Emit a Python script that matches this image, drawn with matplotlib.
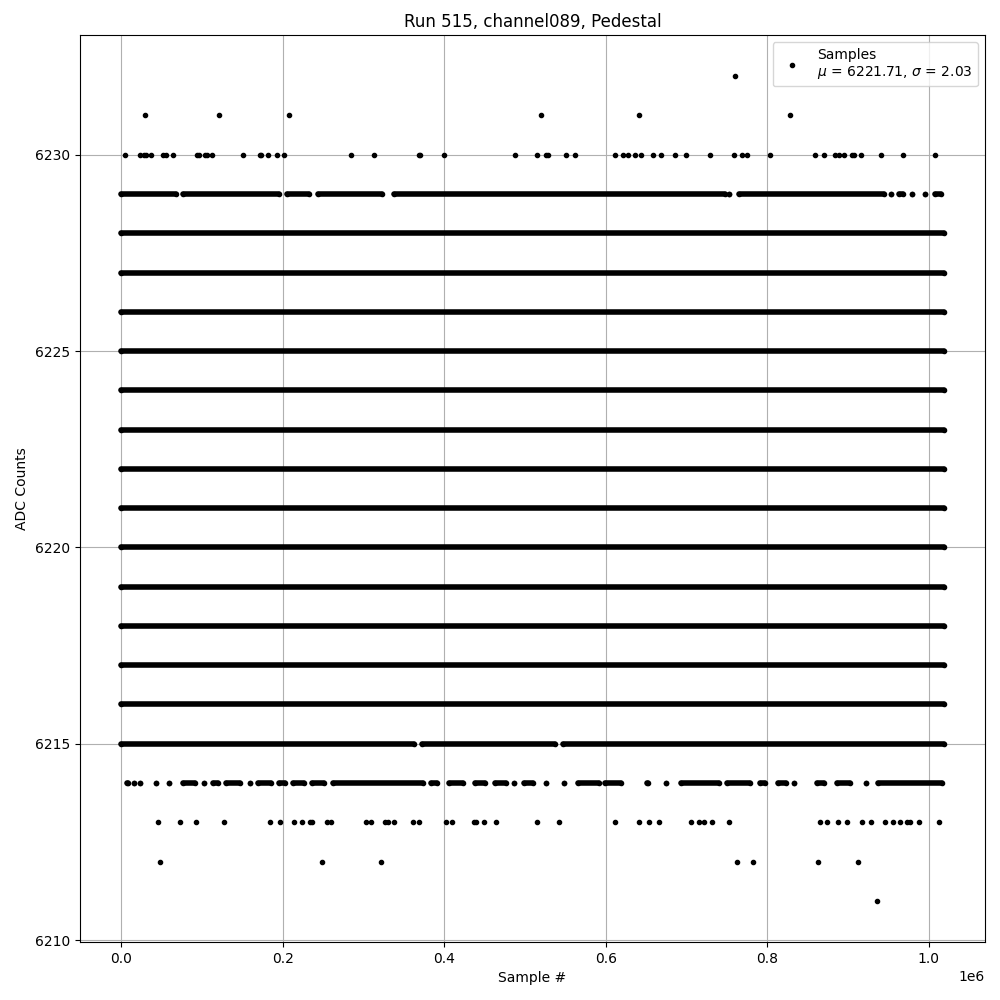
import numpy as np
import matplotlib
matplotlib.use("Agg")
import matplotlib.pyplot as plt

# x positions are in thousands of samples
last_sample = 1018.5

dense_levels = [6216, 6217, 6218, 6219, 6220, 6221, 6222, 6223, 6224, 6225, 6226, 6227, 6228]

# isolated samples
pts = {
    6232: [760],
    6231: [30, 121, 208, 520, 641, 828],
    6230: [5.3, 23.8, 28, 30.9, 37.4, 51.5, 55.9, 64.2, 94.2, 95.9, 103.7, 105.8, 112,
           151, 172.5, 173.2, 181.9, 193, 201.6, 284.8, 312.7, 368.3, 370, 399.1, 488,
           515.2, 526.3, 528, 551, 562.1, 611.5, 621.4, 627.2, 636.7, 644.1, 658.4,
           668.3, 686, 699.1, 728.8, 758.4, 769.1, 774.4, 803.3, 858.4, 870.7, 884.3,
           889.3, 894.7, 904.9, 907.4, 916.4, 941.1, 968.3, 1007.8],
    6213: [46, 73.2, 93, 127.5, 184.3, 196.7, 214, 223.8, 233.7, 236.2, 254.7, 259.6,
           302.8, 309, 326.8, 330.5, 337.4, 360.9, 368.3, 401.6, 410.2, 437.4, 439.9,
           449.8, 464.6, 515.2, 542.3, 611.5, 641.1, 653.5, 665.8, 705.8, 715.7, 721.4,
           731.2, 752.2, 864.6, 874.4, 888, 899.1, 917.7, 928, 946, 955.9, 964.6, 973.2,
           976.9, 988, 1012.7],
    6212: [48.5, 248.5, 321.4, 762.1, 781.9, 863.3, 912.7],
    6211: [936.2],
}

# partly filled levels: runs of consecutive samples (start, end)
runs_6229 = [(0, 68), (76, 196), (205, 232), (244, 323), (338, 747), (753, 753),
             (765, 945), (953.5, 953.5), (963, 968), (979.4, 979.4), (995.4, 995.4),
             (1007, 1014.5)]
runs_6215 = [(0, 362), (373, 537), (547, 1018.5)]
runs_6214 = [(7, 9), (16.4, 16.4), (23.8, 23.8), (43.6, 43.6), (59.6, 59.6), (76, 91),
             (102.8, 102.8), (114, 120), (130, 147), (159.6, 159.6), (170, 186),
             (196, 203), (213, 226), (236, 251), (262, 374), (384, 391), (406, 423),
             (438, 451), (463, 477), (486.8, 486.8), (499, 510), (525.6, 525.6),
             (547.8, 547.8), (566, 591), (599, 619), (651, 652), (675, 675), (693, 740),
             (750, 778), (791, 797), (813, 823), (833.3, 833.3), (861, 870), (886, 902),
             (921.9, 921.9), (937, 1016)]

runs = {6229: runs_6229, 6215: runs_6215, 6214: runs_6214}
for lvl in dense_levels:
    runs[lvl] = [(0, last_sample)]

fig = plt.figure(figsize=(10, 10), dpi=100)
ax = plt.subplot(1, 1, 1)

for lvl, segs in runs.items():
    xs = []
    for a, b in segs:
        xs += [a * 1e3, b * 1e3, np.nan]
    ys = [lvl] * len(xs)
    ax.plot(xs, ys, color="black", lw=4.0, marker=".", solid_capstyle="round")

first = True
for lvl, xs in pts.items():
    x = np.array(xs) * 1e3
    ax.plot(x, [lvl] * len(x), "k.", linestyle="none",
            label="Samples\n$\\mu$ = 6221.71, $\\sigma$ = 2.03" if first else None)
    first = False

ax.grid(True)
ax.set_xlabel("Sample #")
ax.set_ylabel("ADC Counts")
ax.set_title("Run 515, channel089, Pedestal")
ax.legend(loc="upper right")
plt.subplots_adjust(left=0.08, right=0.985, top=0.965, bottom=0.058)
plt.savefig("out.png")
